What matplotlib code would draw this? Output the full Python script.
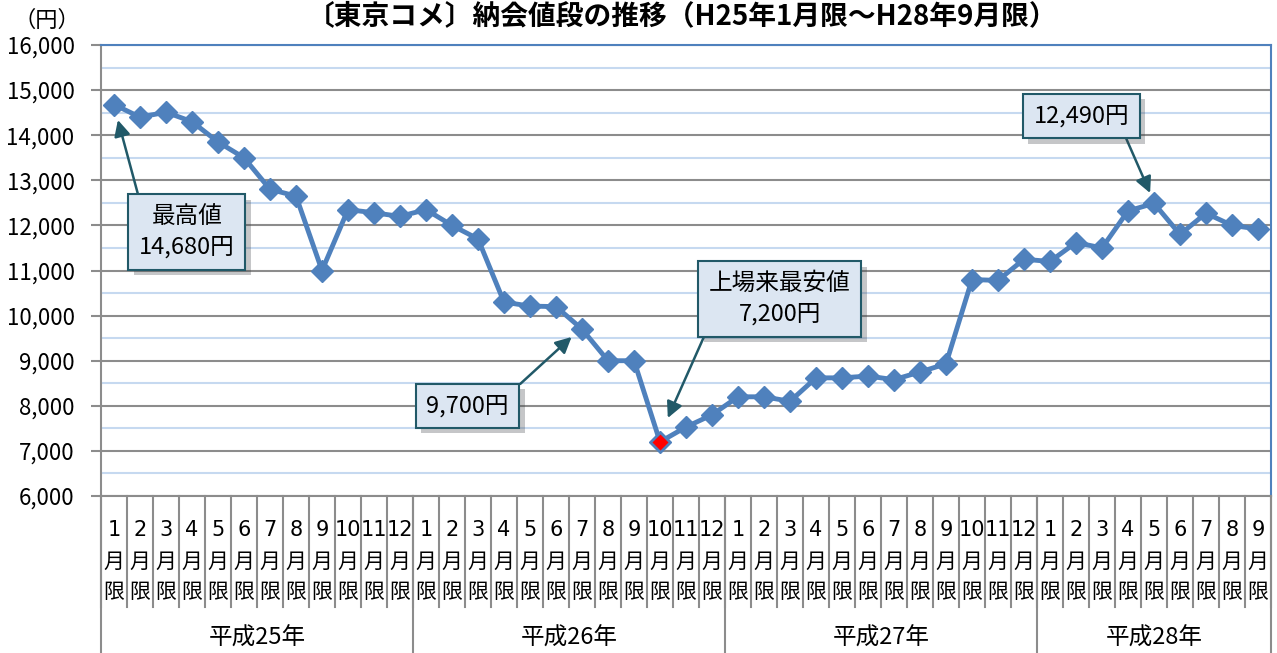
import matplotlib
matplotlib.use("Agg")
import matplotlib.pyplot as plt
import matplotlib.patheffects as pe
from matplotlib.lines import Line2D
import matplotlib.transforms as mtransforms

plt.rcParams['font.family'] = ['Noto Sans CJK JP', 'DejaVu Sans']

# data (円)
years = ["平成25年", "平成26年", "平成27年", "平成28年"]
months_per_year = [12, 12, 12, 9]
prices = [14680, 14400, 14510, 14300, 13850, 13500, 12800, 12650, 11000, 12350, 12280, 12200,
          12350, 12000, 11700, 10300, 10210, 10200, 9700, 9000, 9000, 7200, 7530, 7800,
          8200, 8200, 8100, 8620, 8620, 8660, 8580, 8750, 8930, 10800, 10780, 11250,
          11200, 11620, 11500, 12320, 12490, 11800, 12270, 12000, 11920]
low_idx = 21

month_labels = []
for n in months_per_year:
    month_labels += [str(m) for m in range(1, n + 1)]

x = list(range(len(prices)))

fig = plt.figure(figsize=(12.77, 6.53), dpi=100)
ax = fig.add_axes([0.0791, 0.2404, 0.9162, 0.6907])

ax.set_ylim(6000, 16000)
ax.set_xlim(-0.5, len(prices) - 0.5)
ax.set_yticks(range(6000, 16001, 1000))
ax.set_yticks(range(6500, 16000, 1000), minor=True)
ax.set_yticklabels([f"{v:,}" for v in range(6000, 16001, 1000)], fontsize=16)
ax.yaxis.grid(True, which='major', color='#8c8c8c', lw=1.5)
ax.yaxis.grid(True, which='minor', color='#c6d9f0', lw=1.5)
ax.set_axisbelow(True)
ax.tick_params(axis='y', which='major', length=7, width=1.5, color='#8c8c8c', pad=12)
ax.tick_params(axis='y', which='minor', length=0)
ax.set_xticks([])
ax.spines['left'].set_color('#8c8c8c')
ax.spines['left'].set_linewidth(1.5)
ax.spines['bottom'].set_color('#8c8c8c')
ax.spines['bottom'].set_linewidth(1.5)
ax.spines['top'].set_color('#4f81bd')
ax.spines['top'].set_linewidth(1.5)
ax.spines['right'].set_color('#4f81bd')
ax.spines['right'].set_linewidth(1.5)

ax.plot(x, prices, color='#4f81bd', lw=3.5, marker='D', markersize=11, zorder=3)
ax.plot([low_idx], [prices[low_idx]], marker='D', markersize=9, color='red',
        markeredgecolor='#4f81bd', markeredgewidth=1, lw=0, zorder=4)

# category axis
trans = mtransforms.blended_transform_factory(ax.transData, ax.transAxes)
for i, m in enumerate(month_labels):
    ax.text(i, -0.0754, m, transform=trans, ha='center', va='center', fontsize=15,
            family=['DejaVu Sans'] if len(m) == 1 else ['Liberation Sans Narrow', 'DejaVu Sans'])
    ax.text(i, -0.146, "月", transform=trans, ha='center', va='center', fontsize=15)
    ax.text(i, -0.213, "限", transform=trans, ha='center', va='center', fontsize=15)
for k in range(len(prices) + 1):
    ax.add_line(Line2D([k - 0.5, k - 0.5], [0, -0.246], transform=trans, color='#8c8c8c',
                       lw=1.5, clip_on=False))
start = 0
for y, n in zip(years, months_per_year):
    ax.add_line(Line2D([start - 0.5, start - 0.5], [0, -0.36], transform=trans, color='#8c8c8c',
                       lw=1.5, clip_on=False))
    ax.text(start + n / 2 - 0.5, -0.315, y, transform=trans, ha='center', va='center', fontsize=17)
    start += n
ax.add_line(Line2D([start - 0.5, start - 0.5], [0, -0.36], transform=trans, color='#8c8c8c',
                   lw=1.5, clip_on=False))

# annotations
box = dict(boxstyle='square,pad=0.45', fc='#dce6f2', ec='#215968', lw=1.5)
arrow = dict(arrowstyle='-|>', color='#215968', lw=1.8, mutation_scale=24, shrinkA=0, shrinkB=0)
notes = [
    ("最高値\n14,680円", (0.15, 14337), (2.8, 11854), (0.02, 1.0)),
    ("9,700円", (17.6, 9526), (13.6, 8000), (1.0, 1.0)),
    ("上場来最安値\n7,200円", (21.3, 7730), (25.6, 10368), (0.0, 0.0)),
    ("12,490円", (39.85, 12718), (37.2, 14426), (0.92, 0.0)),
]
for txt, tip, pos, rel in notes:
    a = dict(arrow)
    a['relpos'] = rel
    an = ax.annotate(txt, xy=tip, xytext=pos, ha='center', va='center', fontsize=17,
                     linespacing=1.45, bbox=box, arrowprops=a, zorder=5)
    an.get_bbox_patch().set_path_effects([pe.SimplePatchShadow(offset=(4, -4), alpha=0.3),
                                          pe.Normal()])

fig.text(0.534, 0.976, "〔東京コメ〕納会値段の推移（H25年1月限～H28年9月限）", ha='center',
         va='center', fontsize=20, fontweight='bold')
fig.text(0.037, 0.969, "（円）", ha='center', va='center', fontsize=16)

fig.savefig("out.png", dpi=100)
